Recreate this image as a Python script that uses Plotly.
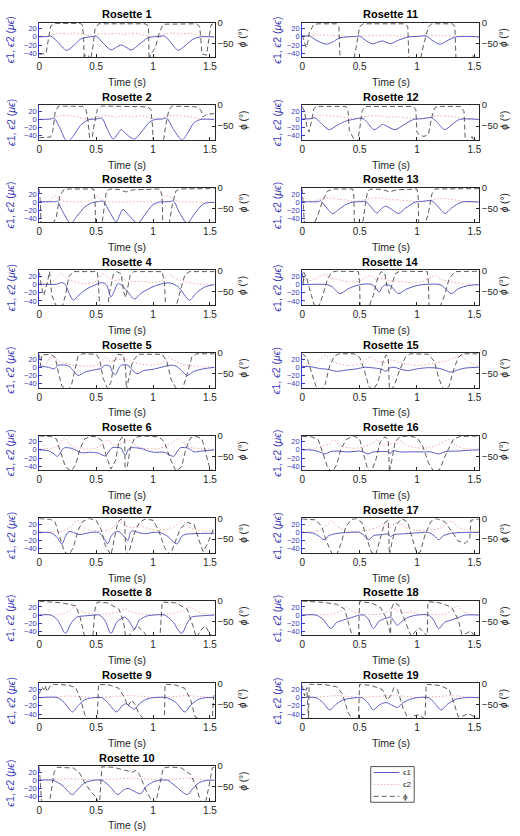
import plotly.graph_objects as go

# ---------------- data (time s, value) ----------------
E1_R1 = [(0,0),(0.08,1),(0.1,2),(0.16,-12),(0.24,-33),(0.3,-22),(0.36,-6),(0.42,-1),(0.48,1),(0.5,2),(0.56,-15),(0.63,-32),(0.68,-25),(0.72,-20),(0.76,-25),(0.81,-32),(0.88,-18),(0.95,-3),(1.0,0),(1.06,1),(1.1,2),(1.16,-15),(1.22,-33),(1.28,-22),(1.35,-6),(1.42,0),(1.54,0)]
E2_R1 = [(0,0),(0.08,1),(0.12,5),(0.18,9),(0.25,7),(0.3,9),(0.38,7),(0.45,2),(0.5,4),(0.55,8),(0.62,7),(0.68,9),(0.74,6),(0.8,9),(0.88,7),(0.96,2),(1.05,3),(1.1,7),(1.18,9),(1.25,7),(1.32,9),(1.4,4),(1.46,1),(1.54,0)]
PHI_R1 = [(0,-76),(0.06,-74),(0.08,-40),(0.1,-8),(0.14,-2),(0.36,-2),(0.38,-6),(0.39,-40),(0.395,-90),(0.4,-78),(0.43,-78),(0.45,-90),(0.47,-60),(0.49,-15),(0.52,-3),(0.93,-3),(0.96,-8),(0.965,-90),(0.98,-76),(1.02,-60),(1.06,-20),(1.09,-4),(1.38,-3),(1.41,-10),(1.43,-75),(1.47,-78),(1.49,-40),(1.51,-5),(1.54,-2)]

E1_R2 = [(0,0),(0.1,1),(0.13,3),(0.18,-20),(0.245,-55),(0.3,-40),(0.36,-15),(0.43,-1),(0.5,1),(0.55,3),(0.6,-25),(0.65,-48),(0.69,-35),(0.72,-25),(0.76,-35),(0.835,-48),(0.9,-30),(0.97,-6),(1.02,0),(1.08,1),(1.12,3),(1.18,-25),(1.255,-50),(1.3,-35),(1.36,-8),(1.42,0),(1.54,0)]
E2_R2 = [(0,0),(0.08,1),(0.12,5),(0.2,10),(0.28,9),(0.35,5),(0.42,2),(0.47,3),(0.53,8),(0.6,10),(0.67,5),(0.74,9),(0.82,6),(0.9,9),(0.98,3),(1.05,2),(1.12,8),(1.2,10),(1.3,7),(1.38,4),(1.45,1),(1.54,0)]
PHI_R2 = [(0,-78),(0.1,-76),(0.12,-60),(0.14,-15),(0.17,-2),(0.38,-3),(0.41,-10),(0.43,-40),(0.445,-88),(0.46,-88),(0.48,-50),(0.51,-10),(0.55,-2),(0.95,-4),(0.98,-10),(0.995,-50),(1.0,-88),(1.09,-88),(1.11,-50),(1.14,-10),(1.17,-2),(1.38,-4),(1.42,-12),(1.44,-28),(1.47,-22),(1.54,-20)]

E1_R3 = [(0,1),(0.14,1),(0.16,2),(0.2,-20),(0.275,-52),(0.33,-35),(0.4,-12),(0.47,-1),(0.52,1),(0.56,2),(0.62,-25),(0.675,-48),(0.71,-30),(0.735,-18),(0.78,-30),(0.865,-52),(0.93,-30),(1.0,-6),(1.06,0),(1.14,1),(1.18,2),(1.23,-25),(1.3,-52),(1.36,-30),(1.44,-5),(1.5,-1),(1.54,-1)]
E2_R3 = [(0,0),(0.09,2),(0.12,12),(0.14,16),(0.17,8),(0.22,2),(0.4,1),(0.46,5),(0.5,15),(0.53,10),(0.58,2),(0.9,1),(1.05,2),(1.1,12),(1.13,16),(1.17,8),(1.22,2),(1.54,0)]
PHI_R3 = [(0,-3),(0.01,-40),(0.015,-88),(0.12,-88),(0.15,-70),(0.18,-20),(0.22,-3),(0.48,-3),(0.49,-30),(0.495,-88),(0.55,-88),(0.57,-40),(0.59,-8),(0.62,-3),(0.7,-4),(0.76,-10),(0.82,-5),(1.06,-3),(1.08,-20),(1.085,-88),(1.14,-88),(1.17,-40),(1.2,-8),(1.23,-3),(1.54,-2)]

E1_R4 = [(0,1),(0.15,1),(0.2,5),(0.23,0),(0.26,-20),(0.3,-38),(0.35,-25),(0.42,-10),(0.48,-2),(0.55,5),(0.59,0),(0.63,-30),(0.66,-15),(0.69,2),(0.72,0),(0.77,-15),(0.835,-35),(0.9,-20),(1.0,-5),(1.09,3),(1.15,4),(1.22,-5),(1.32,-38),(1.38,-20),(1.46,-5),(1.54,0)]
E2_R4 = [(0,2),(0.1,5),(0.15,15),(0.19,28),(0.24,15),(0.3,8),(0.4,3),(0.48,5),(0.52,15),(0.56,26),(0.62,15),(0.68,10),(0.73,15),(0.78,8),(0.9,8),(1.0,5),(1.08,10),(1.14,25),(1.2,15),(1.3,6),(1.4,2),(1.54,0)]
PHI_R4 = [(0,-5),(0.02,-40),(0.04,-60),(0.07,-30),(0.09,-3),(0.1,-30),(0.11,-60),(0.15,-85),(0.2,-88),(0.23,-60),(0.26,-15),(0.3,-3),(0.51,-3),(0.52,-30),(0.53,-88),(0.6,-88),(0.62,-50),(0.65,-10),(0.68,-3),(0.72,-8),(0.74,-50),(0.76,-65),(0.78,-40),(0.8,-10),(0.83,-3),(1.08,-3),(1.1,-30),(1.11,-88),(1.2,-88),(1.24,-50),(1.28,-10),(1.32,-3),(1.54,-3)]

E1_R5 = [(0,3),(0.08,0),(0.13,-4),(0.17,5),(0.25,4),(0.29,-5),(0.34,-20),(0.4,-12),(0.47,-7),(0.54,-3),(0.58,5),(0.62,3),(0.64,-10),(0.67,-18),(0.7,-2),(0.72,5),(0.78,5),(0.81,-5),(0.86,-16),(0.92,-8),(1.0,-5),(1.1,2),(1.16,5),(1.2,3),(1.25,-8),(1.3,-20),(1.36,-10),(1.44,-4),(1.54,0)]
E2_R5 = [(0,3),(0.06,10),(0.1,25),(0.14,20),(0.2,12),(0.28,6),(0.4,3),(0.5,5),(0.55,15),(0.58,26),(0.62,15),(0.68,18),(0.75,20),(0.8,15),(0.9,8),(1.0,5),(1.08,10),(1.13,25),(1.18,18),(1.25,8),(1.35,3),(1.54,0)]
PHI_R5 = [(0,-3),(0.01,-30),(0.02,-5),(0.1,-3),(0.14,-10),(0.17,-50),(0.2,-80),(0.25,-88),(0.28,-80),(0.31,-40),(0.34,-8),(0.38,-2),(0.5,-3),(0.53,-15),(0.56,-60),(0.6,-85),(0.63,-70),(0.66,-20),(0.69,-3),(0.74,-5),(0.76,-40),(0.765,-88),(0.78,-70),(0.82,-20),(0.87,-3),(1.08,-3),(1.12,-20),(1.16,-65),(1.21,-88),(1.26,-85),(1.3,-50),(1.34,-10),(1.38,-2),(1.54,-2)]

E1_R6 = [(0,0),(0.08,-2),(0.12,-8),(0.16,-16),(0.19,-5),(0.22,5),(0.28,4),(0.33,-2),(0.37,-7),(0.45,-6),(0.52,-8),(0.58,-15),(0.61,-5),(0.64,5),(0.72,4),(0.74,-8),(0.76,-12),(0.78,0),(0.8,5),(0.9,3),(0.96,-3),(1.01,-6),(1.1,-6),(1.18,-16),(1.21,-5),(1.24,5),(1.31,4),(1.36,-5),(1.42,-3),(1.54,0)]
E2_R6 = [(0,2),(0.12,5),(0.18,15),(0.22,30),(0.26,15),(0.32,5),(0.45,2),(0.5,5),(0.56,15),(0.6,25),(0.65,12),(0.72,15),(0.78,25),(0.82,15),(0.9,5),(1.05,3),(1.12,10),(1.18,20),(1.22,28),(1.27,15),(1.35,5),(1.54,2)]
PHI_R6 = [(0,-1),(0.1,-2),(0.15,-8),(0.19,-40),(0.23,-75),(0.28,-85),(0.32,-70),(0.36,-30),(0.4,-8),(0.45,-2),(0.5,-3),(0.55,-12),(0.59,-50),(0.63,-80),(0.67,-60),(0.7,-15),(0.73,-3),(0.75,-5),(0.755,-88),(0.77,-80),(0.8,-30),(0.84,-5),(0.9,-1),(1.05,-3),(1.1,-15),(1.15,-55),(1.2,-85),(1.25,-75),(1.29,-30),(1.33,-5),(1.38,-2),(1.43,-8),(1.47,-50),(1.5,-80),(1.54,-85)]

E1_R7 = [(0,0),(0.1,-1),(0.15,-10),(0.2,-28),(0.23,-10),(0.26,2),(0.3,0),(0.35,-5),(0.4,-3),(0.45,0),(0.52,0),(0.56,-10),(0.6,-28),(0.63,-10),(0.66,0),(0.7,2),(0.74,-8),(0.78,-20),(0.8,0),(0.82,4),(0.87,0),(0.93,-3),(1.0,0),(1.06,0),(1.12,-8),(1.21,-28),(1.25,-10),(1.28,-5),(1.35,-3),(1.54,-2)]
E2_R7 = [(0,2),(0.2,3),(0.28,15),(0.33,30),(0.38,15),(0.45,5),(0.6,5),(0.66,15),(0.7,30),(0.74,18),(0.82,12),(0.88,18),(0.93,12),(1.05,5),(1.15,10),(1.22,20),(1.26,30),(1.3,15),(1.4,5),(1.54,2)]
PHI_R7 = [(0,-1),(0.1,-3),(0.14,-10),(0.18,-45),(0.22,-80),(0.26,-88),(0.3,-70),(0.34,-30),(0.38,-8),(0.44,-1),(0.5,-5),(0.54,-25),(0.58,-65),(0.63,-88),(0.66,-50),(0.69,-10),(0.72,-2),(0.75,-8),(0.76,-88),(0.79,-80),(0.83,-40),(0.88,-10),(0.93,-2),(1.0,-5),(1.05,-30),(1.1,-70),(1.15,-88),(1.19,-60),(1.24,-25),(1.3,-10),(1.36,-15),(1.4,-50),(1.44,-80),(1.48,-60),(1.52,-30),(1.54,-20)]

E1_R8 = [(0,0),(0.1,0),(0.16,-12),(0.23,-45),(0.28,-20),(0.33,-5),(0.4,-2),(0.49,0),(0.53,0),(0.58,-15),(0.63,-45),(0.68,-18),(0.75,-5),(0.79,-15),(0.835,-35),(0.88,-12),(0.95,-2),(1.0,0),(1.1,0),(1.17,-15),(1.25,-45),(1.3,-20),(1.34,-5),(1.42,-2),(1.54,0)]
E2_R8 = [(0,2),(0.2,2),(0.27,12),(0.31,20),(0.36,10),(0.45,3),(0.6,3),(0.7,8),(0.76,15),(0.8,8),(0.9,3),(1.15,3),(1.25,10),(1.32,20),(1.37,12),(1.45,3),(1.54,2)]
PHI_R8 = [(0,-1),(0.2,-5),(0.32,-12),(0.36,-40),(0.4,-88),(0.47,-88),(0.49,-20),(0.51,-3),(0.6,-5),(0.7,-20),(0.74,-50),(0.76,-88),(0.8,-80),(0.86,-60),(0.92,-75),(0.95,-88),(1.06,-88),(1.08,-3),(1.2,-5),(1.3,-20),(1.35,-60),(1.38,-88),(1.42,-70),(1.46,-60),(1.5,-80),(1.54,-88)]

E1_R9 = [(0,0),(0.16,0),(0.22,-12),(0.29,-35),(0.34,-20),(0.4,-5),(0.48,0),(0.55,0),(0.6,-12),(0.68,-35),(0.72,-22),(0.76,-15),(0.8,-22),(0.835,-28),(0.88,-15),(0.94,-4),(1.0,0),(1.12,0),(1.2,-12),(1.28,-35),(1.33,-18),(1.4,-4),(1.46,0),(1.54,0)]
E2_R9 = [(0,1),(0.15,2),(0.25,4),(0.35,3),(0.5,1),(0.65,3),(0.8,5),(0.9,3),(1.0,1),(1.2,3),(1.3,5),(1.4,3),(1.54,1)]
PHI_R9 = [(0,-25),(0.02,-8),(0.04,-15),(0.05,-5),(0.07,-20),(0.09,-8),(0.12,-2),(0.25,-4),(0.32,-10),(0.36,-35),(0.4,-75),(0.45,-88),(0.51,-88),(0.52,-2),(0.62,-4),(0.7,-12),(0.75,-35),(0.78,-55),(0.81,-40),(0.84,-50),(0.88,-75),(0.93,-88),(1.1,-88),(1.105,-2),(1.2,-4),(1.28,-12),(1.33,-40),(1.37,-80),(1.42,-88),(1.52,-88),(1.53,-40),(1.54,-20)]

E1_R10 = [(0,0),(0.12,0),(0.2,-12),(0.29,-35),(0.34,-22),(0.4,-6),(0.48,0),(0.55,0),(0.62,-15),(0.69,-35),(0.74,-24),(0.78,-20),(0.82,-25),(0.89,-33),(0.94,-15),(1.0,-4),(1.06,0),(1.13,0),(1.2,-15),(1.3,-35),(1.35,-20),(1.41,-5),(1.48,0),(1.54,0)]
E2_R10 = [(0,1),(0.15,2),(0.25,4),(0.35,3),(0.5,1),(0.65,3),(0.8,5),(0.95,3),(1.05,1),(1.2,3),(1.3,5),(1.45,2),(1.54,1)]
PHI_R10 = [(0,-2),(0.01,-40),(0.02,-88),(0.09,-88),(0.11,-50),(0.13,-15),(0.16,-3),(0.3,-5),(0.35,-15),(0.4,-40),(0.45,-60),(0.5,-75),(0.52,-88),(0.53,-88),(0.55,-2),(0.65,-3),(0.75,-10),(0.82,-15),(0.85,-10),(0.88,-20),(0.94,-60),(1.0,-88),(1.03,-80),(1.06,-40),(1.09,-5),(1.15,-2),(1.25,-5),(1.33,-20),(1.38,-50),(1.42,-88),(1.46,-88),(1.49,-50),(1.52,-5),(1.54,-2)]

E1_R11 = [(0,2),(0.05,2),(0.06,3),(0.12,-8),(0.21,-18),(0.27,-12),(0.32,-3),(0.4,0),(0.47,1),(0.5,2),(0.55,-8),(0.61,-17),(0.66,-13),(0.7,-10),(0.73,-13),(0.77,-17),(0.84,-8),(0.93,0),(1.0,1),(1.08,2),(1.13,-8),(1.2,-18),(1.26,-10),(1.34,0),(1.54,0)]
E2_R11 = [(0,2),(0.05,3),(0.15,5),(0.25,4),(0.35,2),(0.45,1),(0.55,3),(0.65,4),(0.8,3),(0.95,1),(1.1,3),(1.2,4),(1.35,1),(1.54,0)]
PHI_R11 = [(0,-30),(0.02,-45),(0.035,-60),(0.05,-45),(0.06,-25),(0.1,-5),(0.14,-3),(0.3,-3),(0.32,-10),(0.33,-88),(0.45,-88),(0.47,-60),(0.5,-10),(0.53,-3),(0.89,-3),(0.92,-10),(0.93,-88),(1.03,-88),(1.06,-50),(1.1,-10),(1.13,-3),(1.31,-3),(1.33,-10),(1.34,-88),(1.45,-88),(1.48,-78),(1.5,-85),(1.54,-88)]

E1_R12 = [(0,1),(0.08,2),(0.11,4),(0.16,-8),(0.235,-25),(0.3,-15),(0.37,-5),(0.44,0),(0.52,3),(0.56,-5),(0.625,-25),(0.67,-18),(0.7,-12),(0.74,-17),(0.81,-25),(0.88,-14),(0.97,0),(1.05,2),(1.13,4),(1.18,-8),(1.24,-25),(1.3,-14),(1.37,0),(1.54,0)]
E2_R12 = [(0,1),(0.08,3),(0.13,8),(0.18,11),(0.25,9),(0.33,7),(0.42,3),(0.5,4),(0.56,8),(0.65,9),(0.75,6),(0.85,6),(0.95,3),(1.02,1),(1.1,5),(1.17,9),(1.27,8),(1.35,5),(1.42,1),(1.54,0)]
PHI_R12 = [(0,-3),(0.02,-15),(0.04,-50),(0.06,-64),(0.08,-40),(0.1,-10),(0.12,-3),(0.38,-3),(0.4,-15),(0.41,-60),(0.46,-86),(0.48,-88),(0.5,-60),(0.52,-15),(0.55,-3),(0.96,-3),(0.99,-10),(1.0,-65),(1.02,-70),(1.06,-75),(1.1,-70),(1.12,-40),(1.15,-8),(1.18,-3),(1.38,-3),(1.41,-15),(1.42,-80),(1.46,-88),(1.48,-75),(1.5,-88),(1.54,-88)]

E1_R13 = [(0,1),(0.14,1),(0.16,3),(0.2,-10),(0.265,-28),(0.32,-18),(0.38,-6),(0.44,0),(0.52,1),(0.55,2),(0.6,-12),(0.65,-27),(0.69,-16),(0.725,-10),(0.77,-16),(0.84,-28),(0.9,-15),(0.985,0),(1.06,2),(1.13,3),(1.18,-10),(1.245,-28),(1.3,-15),(1.39,0),(1.54,0)]
E2_R13 = [(0,1),(0.1,3),(0.18,8),(0.25,10),(0.32,7),(0.38,5),(0.45,2),(0.52,4),(0.6,9),(0.68,10),(0.75,6),(0.85,5),(0.95,2),(1.0,0),(1.1,4),(1.18,8),(1.27,8),(1.35,4),(1.42,0),(1.54,0)]
PHI_R13 = [(0,-2),(0.01,-40),(0.02,-88),(0.1,-88),(0.13,-70),(0.18,-30),(0.22,-8),(0.27,-3),(0.44,-3),(0.45,-20),(0.455,-88),(0.5,-88),(0.53,-80),(0.55,-40),(0.57,-8),(0.6,-3),(0.7,-4),(0.76,-10),(0.82,-5),(1.0,-3),(1.01,-20),(1.015,-88),(1.07,-88),(1.1,-60),(1.13,-15),(1.16,-3),(1.54,-2)]

E1_R14 = [(0,0),(0.22,0),(0.26,-5),(0.33,-22),(0.4,-10),(0.5,0),(0.6,1),(0.63,-5),(0.67,-18),(0.7,-5),(0.73,0),(0.77,-3),(0.84,-22),(0.9,-12),(1.0,-2),(1.1,1),(1.2,0),(1.24,-8),(1.3,-22),(1.36,-10),(1.45,-2),(1.54,0)]
E2_R14 = [(0,3),(0.03,20),(0.06,10),(0.12,15),(0.2,25),(0.27,15),(0.35,10),(0.42,6),(0.5,8),(0.56,20),(0.6,22),(0.65,12),(0.7,15),(0.76,10),(0.85,8),(0.95,5),(1.05,8),(1.12,18),(1.16,22),(1.22,12),(1.32,6),(1.42,2),(1.54,0)]
PHI_R14 = [(0,-5),(0.01,-35),(0.015,-5),(0.04,-20),(0.08,-60),(0.11,-88),(0.14,-88),(0.18,-60),(0.22,-20),(0.26,-4),(0.3,-2),(0.49,-3),(0.5,-30),(0.505,-88),(0.58,-88),(0.62,-60),(0.66,-15),(0.69,-3),(0.72,-8),(0.74,-40),(0.76,-55),(0.78,-35),(0.81,-8),(0.85,-2),(1.09,-3),(1.1,-30),(1.105,-88),(1.2,-88),(1.24,-60),(1.28,-20),(1.33,-3),(1.54,-2)]

E1_R15 = [(0,2),(0.08,1),(0.15,-3),(0.22,-5),(0.3,-10),(0.38,-7),(0.45,-5),(0.55,0),(0.6,-1),(0.66,-3),(0.7,-6),(0.73,-10),(0.76,-2),(0.8,0),(0.86,-5),(0.92,-8),(1.0,-4),(1.1,-1),(1.2,-3),(1.25,-8),(1.3,-12),(1.36,-6),(1.42,-2),(1.54,0)]
E2_R15 = [(0,3),(0.1,8),(0.16,20),(0.2,28),(0.25,18),(0.32,8),(0.42,4),(0.5,8),(0.56,20),(0.6,26),(0.65,15),(0.72,12),(0.78,18),(0.85,12),(0.95,6),(1.05,5),(1.15,10),(1.25,15),(1.32,22),(1.38,28),(1.44,15),(1.54,3)]
PHI_R15 = [(0,-2),(0.04,-10),(0.08,-45),(0.12,-80),(0.16,-88),(0.2,-75),(0.24,-30),(0.28,-8),(0.32,-2),(0.45,-2),(0.5,-10),(0.54,-40),(0.58,-80),(0.62,-88),(0.66,-70),(0.7,-25),(0.73,-5),(0.75,-10),(0.76,-88),(0.8,-80),(0.85,-40),(0.9,-10),(0.94,-2),(1.1,-3),(1.15,-20),(1.19,-60),(1.23,-88),(1.28,-80),(1.32,-40),(1.36,-10),(1.4,-2),(1.54,-2)]

E1_R16 = [(0,0),(0.1,-1),(0.15,-5),(0.2,-10),(0.25,-4),(0.3,-3),(0.4,-5),(0.5,-3),(0.54,-6),(0.57,-10),(0.62,-5),(0.7,-4),(0.75,-5),(0.77,-9),(0.79,-2),(0.85,-5),(0.95,-5),(1.05,-5),(1.12,-5),(1.19,-10),(1.25,-4),(1.35,-3),(1.45,-1),(1.54,0)]
E2_R16 = [(0,2),(0.1,3),(0.18,10),(0.24,15),(0.28,25),(0.32,12),(0.4,5),(0.5,5),(0.6,15),(0.66,25),(0.7,12),(0.78,15),(0.84,25),(0.9,12),(1.0,5),(1.1,5),(1.2,15),(1.28,25),(1.33,12),(1.42,3),(1.54,2)]
PHI_R16 = [(0,-2),(0.08,-3),(0.14,-10),(0.18,-40),(0.22,-75),(0.26,-88),(0.3,-70),(0.34,-30),(0.39,-8),(0.45,-1),(0.5,-8),(0.53,-40),(0.57,-80),(0.6,-88),(0.64,-60),(0.68,-15),(0.72,-3),(0.75,-10),(0.76,-88),(0.78,-60),(0.81,-15),(0.85,-3),(0.93,-1),(1.0,-5),(1.05,-25),(1.1,-65),(1.15,-88),(1.2,-80),(1.26,-40),(1.32,-8),(1.38,-2),(1.54,-1)]

E1_R17 = [(0,0),(0.1,-2),(0.15,-10),(0.19,-18),(0.23,-8),(0.29,-3),(0.4,0),(0.5,0),(0.54,-8),(0.58,-18),(0.62,-8),(0.7,-5),(0.75,-4),(0.77,-10),(0.8,-5),(0.9,-3),(1.0,-1),(1.1,0),(1.15,-8),(1.19,-18),(1.23,-8),(1.3,-2),(1.4,0),(1.54,0)]
E2_R17 = [(0,2),(0.15,5),(0.22,20),(0.26,28),(0.3,15),(0.4,3),(0.55,5),(0.65,12),(0.72,20),(0.75,10),(0.8,20),(0.84,28),(0.88,15),(1.0,5),(1.2,10),(1.26,20),(1.3,28),(1.35,15),(1.45,3),(1.54,2)]
PHI_R17 = [(0,-2),(0.12,-4),(0.17,-20),(0.21,-55),(0.26,-85),(0.3,-88),(0.34,-60),(0.38,-20),(0.43,-3),(0.47,-1),(0.52,-10),(0.56,-45),(0.6,-80),(0.64,-88),(0.68,-50),(0.72,-10),(0.75,-5),(0.76,-88),(0.78,-60),(0.82,-15),(0.87,-1),(0.92,-10),(0.96,-50),(1.0,-85),(1.03,-80),(1.07,-40),(1.12,-8),(1.17,-1),(1.24,-8),(1.3,-30),(1.36,-55),(1.42,-60),(1.46,-50),(1.47,-5),(1.54,-2)]

E1_R18 = [(0,0),(0.12,0),(0.18,-10),(0.25,-33),(0.3,-18),(0.35,-13),(0.41,-8),(0.5,0),(0.54,0),(0.58,-12),(0.62,-33),(0.67,-15),(0.73,-8),(0.77,-5),(0.8,-15),(0.83,-25),(0.87,-15),(0.92,-6),(1.0,0),(1.1,0),(1.14,-10),(1.19,-33),(1.24,-18),(1.3,-12),(1.38,-4),(1.42,0),(1.54,0)]
E2_R18 = [(0,1),(0.25,2),(0.33,10),(0.38,20),(0.43,10),(0.5,3),(0.7,3),(0.76,12),(0.79,18),(0.83,10),(0.9,5),(0.95,8),(1.0,3),(1.25,3),(1.3,12),(1.35,22),(1.4,10),(1.46,2),(1.54,1)]
PHI_R18 = [(0,-1),(0.15,-3),(0.3,-8),(0.37,-20),(0.41,-60),(0.44,-88),(0.49,-88),(0.5,-2),(0.6,-5),(0.68,-15),(0.73,-40),(0.77,-80),(0.775,-20),(0.8,-5),(0.84,-10),(0.9,-50),(0.95,-85),(0.98,-75),(1.02,-65),(1.06,-75),(1.09,-85),(1.095,-2),(1.2,-5),(1.3,-15),(1.36,-45),(1.39,-80),(1.43,-78),(1.47,-72),(1.5,-85),(1.54,-88)]

E1_R19 = [(0,0),(0.12,0),(0.18,-12),(0.24,-30),(0.3,-15),(0.36,-5),(0.47,0),(0.52,0),(0.57,-12),(0.62,-30),(0.67,-18),(0.73,-12),(0.78,-18),(0.83,-24),(0.88,-12),(0.95,-3),(1.0,0),(1.1,0),(1.15,-12),(1.21,-30),(1.27,-15),(1.34,-4),(1.42,0),(1.54,0)]
E2_R19 = [(0,1),(0.2,3),(0.3,5),(0.4,3),(0.5,1),(0.65,3),(0.8,5),(0.9,3),(1.0,1),(1.2,3),(1.3,5),(1.4,3),(1.54,1)]
PHI_R19 = [(0,-5),(0.02,-30),(0.04,-10),(0.05,-88),(0.055,-88),(0.06,-2),(0.2,-3),(0.3,-8),(0.35,-25),(0.4,-70),(0.44,-88),(0.49,-88),(0.5,-2),(0.6,-5),(0.7,-15),(0.74,-40),(0.77,-30),(0.8,-10),(0.83,-15),(0.88,-60),(0.93,-88),(0.97,-78),(1.02,-75),(1.07,-85),(1.08,-2),(1.2,-5),(1.28,-15),(1.32,-45),(1.36,-80),(1.4,-78),(1.45,-72),(1.5,-80),(1.54,-85)]

ROSETTES = list(range(1, 20))
E1 = [E1_R1,E1_R2,E1_R3,E1_R4,E1_R5,E1_R6,E1_R7,E1_R8,E1_R9,E1_R10,E1_R11,E1_R12,E1_R13,E1_R14,E1_R15,E1_R16,E1_R17,E1_R18,E1_R19]
E2 = [E2_R1,E2_R2,E2_R3,E2_R4,E2_R5,E2_R6,E2_R7,E2_R8,E2_R9,E2_R10,E2_R11,E2_R12,E2_R13,E2_R14,E2_R15,E2_R16,E2_R17,E2_R18,E2_R19]
PHI = [PHI_R1,PHI_R2,PHI_R3,PHI_R4,PHI_R5,PHI_R6,PHI_R7,PHI_R8,PHI_R9,PHI_R10,PHI_R11,PHI_R12,PHI_R13,PHI_R14,PHI_R15,PHI_R16,PHI_R17,PHI_R18,PHI_R19]

X_TICKS = [0, 0.5, 1, 1.5]
X_TICKTEXT = ['0', '0.5', '1', '1.5']
L_TICKS = [-40, -20, 0, 20]
R_TICKS = [-50, 0]
LEGEND_LABELS = ['ϵ1', 'ϵ2', 'ϕ']

# ---------------- layout geometry ----------------
W, H = 520, 836
COL_X = [(36.7, 214.0), (302.7, 481.5)]
LTITLE_X = [7.5, 277.0]
RTITLE_X = [243.0, 507.0]
ROW_TOP0, ROW_PITCH, PLOT_H = 16.7, 83.3, 35.0

BLUE = '#3a3ab8'
E1_COLOR = '#5b5bc2'
E2_COLOR = '#eeaaaa'
PHI_COLOR = '#4a4a4a'
AX_DARK = '#262626'
FONT = 'Liberation Sans, Arial, sans-serif'

def px_x(p): return p / W
def px_y(p): return 1 - p / H

fig = go.Figure()
layout = {}
annotations = []
shapes = []

for i, k in enumerate(ROSETTES):
    col = 0 if k <= 10 else 1
    row = (k - 1) % 10
    top = ROW_TOP0 + ROW_PITCH * row
    bot = top + PLOT_H
    x0, x1 = COL_X[col]
    xn = '' if k == 1 else str(k)
    yl = '' if k == 1 else str(2 * k - 1)
    yr = str(2 * k)

    t1 = [p[0] for p in E1[i]]; v1 = [p[1] for p in E1[i]]
    t2 = [p[0] for p in E2[i]]; v2 = [p[1] for p in E2[i]]
    t3 = [p[0] for p in PHI[i]]; v3 = [p[1] for p in PHI[i]]

    fig.add_trace(go.Scatter(x=t2, y=v2, xaxis='x' + xn, yaxis='y' + yl, mode='lines',
                             line=dict(color=E2_COLOR, width=1.0, dash='1.5px,2px', shape='spline', smoothing=0.8),
                             name=LEGEND_LABELS[1], showlegend=False))
    fig.add_trace(go.Scatter(x=t1, y=v1, xaxis='x' + xn, yaxis='y' + yl, mode='lines',
                             line=dict(color=E1_COLOR, width=1.0, shape='spline', smoothing=0.8),
                             name=LEGEND_LABELS[0], showlegend=False))
    fig.add_trace(go.Scatter(x=t3, y=v3, xaxis='x' + xn, yaxis='y' + yr, mode='lines',
                             line=dict(color=PHI_COLOR, width=0.9, dash='5px,3px'),
                             name=LEGEND_LABELS[2], showlegend=False))

    dom_x = [px_x(x0), px_x(x1)]
    dom_y = [px_y(bot), px_y(top)]
    layout['xaxis' + xn] = dict(domain=dom_x, anchor='y' + yl, range=[0, 1.54],
                                tickvals=X_TICKS, ticktext=X_TICKTEXT, ticks='inside', ticklen=3,
                                tickcolor=AX_DARK, showline=True, linecolor=AX_DARK, linewidth=1,
                                mirror=True, showgrid=False, zeroline=False,
                                tickfont=dict(size=10, color=AX_DARK, family=FONT))
    layout['yaxis' + yl] = dict(domain=dom_y, anchor='x' + xn, range=[-50, 35],
                                tickvals=L_TICKS, ticks='inside', ticklen=3, tickcolor=BLUE,
                                showline=True, linecolor=BLUE, linewidth=1, showgrid=False,
                                zeroline=False, tickfont=dict(size=7.5, color=BLUE, family=FONT))
    layout['yaxis' + yr] = dict(domain=dom_y, anchor='x' + xn, overlaying='y' + yl, side='right',
                                range=[-83, 0], tickvals=R_TICKS, ticks='inside', ticklen=3,
                                tickcolor=AX_DARK, showline=True, linecolor=AX_DARK, linewidth=1,
                                showgrid=False, zeroline=False,
                                tickfont=dict(size=9.5, color=AX_DARK, family=FONT))

    xc = (x0 + x1) / 2
    annotations.append(dict(text='<b>Rosette %d</b>' % k, x=px_x(xc), y=px_y(top - 8.5),
                            xref='paper', yref='paper', showarrow=False, xanchor='center',
                            yanchor='middle', font=dict(size=11, color='#000000', family=FONT)))
    annotations.append(dict(text='Time (s)', x=px_x(xc), y=px_y(bot + 25),
                            xref='paper', yref='paper', showarrow=False, xanchor='center',
                            yanchor='middle', font=dict(size=10.5, color=AX_DARK, family=FONT)))
    annotations.append(dict(text='<i>ϵ</i>1, <i>ϵ</i>2 (<i>μϵ</i>)', x=px_x(LTITLE_X[col]),
                            y=px_y(top + PLOT_H / 2), xref='paper', yref='paper', showarrow=False,
                            xanchor='center', yanchor='middle', textangle=-90,
                            font=dict(size=10.5, color=BLUE, family=FONT)))
    annotations.append(dict(text='<i>ϕ</i> (°)', x=px_x(RTITLE_X[col]),
                            y=px_y(top + PLOT_H / 2 - 2), xref='paper', yref='paper', showarrow=False,
                            xanchor='center', yanchor='middle', textangle=-90,
                            font=dict(size=10, color=AX_DARK, family=FONT)))

# ---------------- legend (drawn as a small boxed key) ----------------
LEG_X0, LEG_Y0, LEG_X1, LEG_Y1 = 372.0, 767.0, 416.0, 803.0
shapes.append(dict(type='rect', xref='paper', yref='paper', x0=px_x(LEG_X0), x1=px_x(LEG_X1),
                   y0=px_y(LEG_Y1), y1=px_y(LEG_Y0), line=dict(color='#555555', width=1),
                   fillcolor='white', layer='above'))
leg_styles = [dict(color=E1_COLOR, width=1.0), dict(color=E2_COLOR, width=1.0, dash='1.5px,2px'),
              dict(color=PHI_COLOR, width=0.9, dash='5px,3px')]
for j, lab in enumerate(LEGEND_LABELS):
    yy = LEG_Y0 + 6 + j * 12
    shapes.append(dict(type='line', xref='paper', yref='paper', x0=px_x(375), x1=px_x(401),
                       y0=px_y(yy), y1=px_y(yy), line=leg_styles[j], layer='above'))
    annotations.append(dict(text=lab, x=px_x(403), y=px_y(yy), xref='paper', yref='paper',
                            showarrow=False, xanchor='left', yanchor='middle',
                            font=dict(size=8, color=AX_DARK, family=FONT)))

fig.update_layout(**layout)
fig.update_layout(
    width=W, height=H, margin=dict(l=0, r=0, t=0, b=0),
    paper_bgcolor='white', plot_bgcolor='white',
    annotations=annotations, shapes=shapes,
    showlegend=False,
    font=dict(family=FONT),
)

fig.write_html('out.html')
